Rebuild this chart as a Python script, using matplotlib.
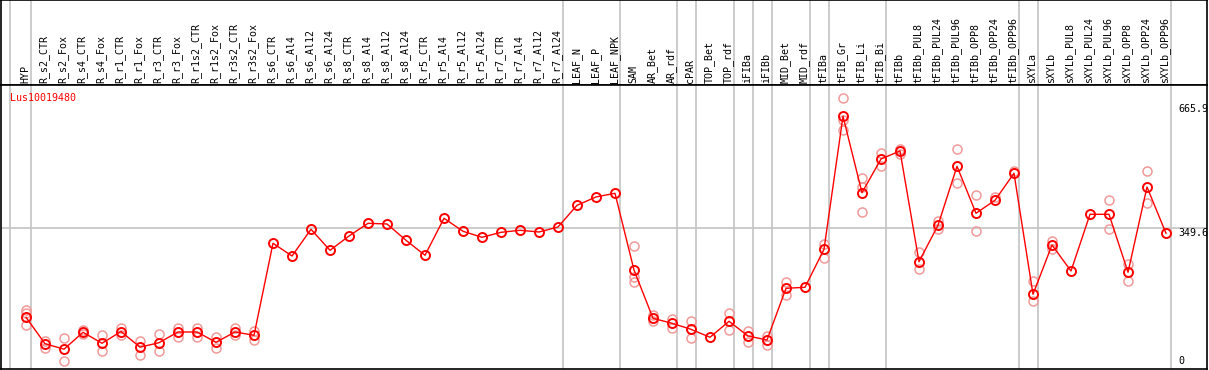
import matplotlib
matplotlib.use("Agg")
import matplotlib.pyplot as plt

# =========================
# Data
# =========================
samples = [
    "HYP", "R_s2_CTR", "R_s2_Fox", "R_s4_CTR", "R_s4_Fox", "R_r1_CTR", "R_r1_Fox",
    "R_r3_CTR", "R_r3_Fox", "R_r1s2_CTR", "R_r1s2_Fox", "R_r3s2_CTR", "R_r3s2_Fox",
    "R_s6_CTR", "R_s6_Al4", "R_s6_Al12", "R_s6_Al24", "R_s8_CTR", "R_s8_Al4",
    "R_s8_Al12", "R_s8_Al24", "R_r5_CTR", "R_r5_Al4", "R_r5_Al12", "R_r5_Al24",
    "R_r7_CTR", "R_r7_Al4", "R_r7_Al12", "R_r7_Al24", "LEAF_N", "LEAF_P", "LEAF_NPK",
    "SAM", "AR_Bet", "AR_rdf", "cPAR", "TOP_Bet", "TOP_rdf", "iFIBa", "iFIBb",
    "MID_Bet", "MID_rdf", "tFIBa", "tFIB_Gr", "tFIB_Li", "tFIB_Bi", "tFIBb",
    "tFIBb_PUL8", "tFIBb_PUL24", "tFIBb_PUL96", "tFIBb_OPP8", "tFIBb_OPP24",
    "tFIBb_OPP96", "sXYLa", "sXYLb", "sXYLb_PUL8", "sXYLb_PUL24", "sXYLb_PUL96",
    "sXYLb_OPP8", "sXYLb_OPP24", "sXYLb_OPP96",
]

mean_expr = [
    123.2, 56.0, 42.0, 85.0, 57.0, 87.0, 47.1, 58.5, 85.8, 85.8, 59.5, 85.8, 77.4,
    311.5, 279.1, 347.1, 293.6, 330.0, 362.3, 360.6, 319.1, 280.9, 375.1, 342.0, 326.7,
    339.4, 344.5, 340.2, 352.9, 408.1, 429.3, 438.7,
    243.5, 120.6, 107.9, 92.6, 72.3, 113.0, 75.6, 65.4, 196.9, 199.5,
    296.2, 634.6, 440.2, 526.0, 546.3, 264.6, 357.3, 507.4, 387.8, 420.9, 489.6,
    181.7, 307.1, 241.0, 385.2, 385.2, 237.7, 454.7, 336.9,
]

replicates = [
    [141.7, 133.3, 104.3], [63.6, 45.8], [69.7, 11.2], [90.8, 79.4], [78.1, 38.2],
    [96.7, 78.1], [63.6, 26.5], [79.9, 38.2], [95.9, 73.8], [95.9, 73.8],
    [73.8, 45.8], [95.9, 78.1], [89.1, 65.4],
    [], [], [], [], [], [], [], [], [], [], [], [], [], [], [], [], [], [], [],
    [304.6, 226.5, 213.0], [129.0, 114.5], [118.1, 95.9], [113.0, 70.5], [],
    [134.1, 90.8], [88.3, 61.1], [76.3, 52.7], [213.0, 180.7], [],
    [309.7, 273.3], [680.4, 625.2, 599.7], [476.8, 453.9, 390.3], [540.5, 508.1],
    [550.6, 538.7], [288.5, 245.3], [369.0, 347.1], [550.6, 464.1], [433.6, 342.0],
    [430.0], [496.2], [214.8, 165.4], [318.1, 296.2], [], [], [421.6, 347.1],
    [258.8, 215.5], [495.4, 413.2], [],
]

# index of the last sample in each group (-1 = left edge line)
group_ends = [-1, 0, 28, 31, 34, 35, 37, 38, 39, 41, 42, 45, 52, 53, 60]

gene = "Lus10019480"
y_ticks = [665.9, 349.6]

# =========================
# Layout
# =========================
W, H = 1209, 370
fig = plt.figure(figsize=(W / 100, H / 100), dpi=100)

x_lim = (-1.316, 62.158)
y_lim = (-8.4, 714.2)
grid_col = "#c4c4c4"
mono = "DejaVu Sans Mono"

head = fig.add_axes([1 / W, (H - 85) / H, 1206 / W, 85 / H])
ax = fig.add_axes([1 / W, 1 / H, 1206 / W, 284 / H])

for a in (head, ax):
    a.set_xlim(*x_lim)
    a.set_xticks([])
    a.set_yticks([])
    for s in a.spines.values():
        s.set_color("black")
        s.set_linewidth(1.2)
    for g in group_ends:
        off = 0.16 if g < 0 else 0.24
        a.axvline(g + off, color=grid_col, lw=1.2, zorder=0)

head.set_ylim(0, 1)
for i, name in enumerate(samples):
    head.text(i - 0.05, 0.025, name, rotation=90, ha="center", va="bottom",
              fontsize=7.2, family=mono, color="black")

ax.set_ylim(*y_lim)
ax.axhline(y_ticks[1], color=grid_col, lw=1.2, zorder=0)

# replicates
for i, reps in enumerate(replicates):
    if reps:
        ax.plot([i] * len(reps), reps, linestyle="none", marker="o", ms=6.5,
                mfc="none", mec="#f09a9a", mew=1.1, zorder=2)

# mean line
xs = list(range(len(samples)))
ax.plot(xs, mean_expr, color="red", lw=1.0, marker="o", ms=6.5,
        mfc="none", mec="red", mew=1.4, zorder=3)

tx = ax.get_yaxis_transform()
xr = (1178 - 1) / 1206
for v in y_ticks:
    ax.text(xr, v, f"{v}", transform=tx, ha="left", va="top", fontsize=7.2,
            family=mono, color="black")
ax.text(xr, 0, "0", transform=tx, ha="left", va="bottom", fontsize=7.2,
        family=mono, color="black")

ax.text(9 / 1206, (369 - 93) / 284, gene, transform=ax.transAxes, ha="left",
        va="top", fontsize=7.2, family=mono, color="red")

fig.savefig("out.png", dpi=100)
